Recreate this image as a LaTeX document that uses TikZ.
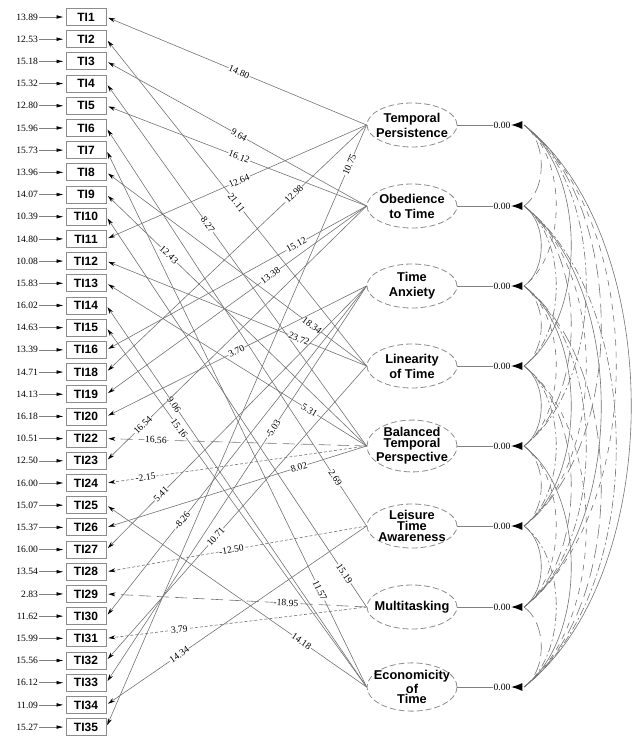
\documentclass[tikz,border=0pt]{standalone}
\usepackage{fontspec}
\setmainfont{Liberation Serif}
\newfontfamily\arialfont{Liberation Sans}
\usetikzlibrary{shapes.geometric,arrows.meta,positioning,calc}

\begin{document}
\begin{tikzpicture}[x=0.5pt, y=-0.5pt,
    indicator/.style={draw=black!45, rectangle, minimum width=20pt, minimum height=8.5pt, inner sep=0pt,
        font=\arialfont\bfseries\fontsize{6}{6}\selectfont},
    latent/.style={draw=black!45, dash pattern=on 3pt off 1.5pt, ellipse, minimum width=45pt, minimum height=22pt,
        inner xsep=-3.2pt, inner ysep=0pt, align=center,
        font=\arialfont\bfseries\fontsize{6.4}{7.5}\selectfont},
    tight/.style={font=\arialfont\bfseries\fontsize{6.4}{5.4}\selectfont},
    num/.style={font=\fontsize{4.8}{5}\selectfont, inner sep=0.3pt},
    lab/.style={num, fill=white, sloped, pos=#1},
    load/.style={draw=black!55, line width=0.3pt, shorten >=1pt, -{Stealth[length=3.5pt,width=2pt,black]}},
    longdash/.style={dash pattern=on 6pt off 3pt},
    finedash/.style={dash pattern=on 1.5pt off 1pt},
    err/.style={draw=black!50, line width=0.3pt, shorten >=1pt, -{Latex[length=3.5pt,width=1.8pt,black]}},
    varline/.style={draw=black!50, line width=0.4pt},
    vartri/.style={-{Latex[length=5.5pt,width=4pt,black]}, line width=0pt, draw=white},
    cov0/.style={draw=black!55, line width=0.3pt, dashed},
    cov1/.style={draw=black!55, line width=0.3pt},
    cov2/.style={draw=black!55, line width=0.3pt, dash pattern=on 4pt off 1.5pt on 1pt off 1.5pt},
    cov3/.style={draw=black!55, line width=0.3pt, dash pattern=on 7pt off 3pt}]

    \useasboundingbox (0,0) rectangle (633,738);

    % observed indicators with error variances
    \foreach \n/\e [count=\i] in {1/13.89, 2/12.53, 3/15.18, 4/15.32, 5/12.80, 6/15.96, 7/15.73,
        8/13.96, 9/14.07, 10/10.39, 11/14.80, 12/10.08, 13/15.83, 14/16.02, 15/14.63, 16/13.39,
        18/14.71, 19/14.13, 20/16.18, 22/10.51, 23/12.50, 24/16.00, 25/15.07, 26/15.37, 27/16.00,
        28/13.54, 29/2.83, 30/11.62, 31/15.99, 32/15.56, 33/16.12, 34/11.09, 35/15.27} {
        \node (ti\n) [indicator] at (86,{17+22.19*(\i-1)}) {TI\n};
        \node (e\n) [num, anchor=east] at (39,{17+22.19*(\i-1)}) {\e};
        \draw [err] (e\n) -- (ti\n);
    }

    % latent factors
    \node (tp) [latent] at (412,125) {Temporal\\Persistence};
    \node (ot) [latent] at (412,206) {Obedience\\to Time};
    \node (ta) [latent] at (412,286) {Time\\Anxiety};
    \node (lt) [latent] at (412,366) {Linearity\\of Time};
    \node (btp) [latent, tight] at (412,446) {Balanced\\Temporal\\Perspective};
    \node (lta) [latent, tight] at (412,526) {Leisure\\Time\\Awareness};
    \node (mt) [latent] at (412,607) {Multitasking};
    \node (et) [latent, tight] at (412,687) {Economicity\\of\\Time};

    % loadings
    \draw [load] (tp.west) -- node [lab=0.49] {14.80} (ti1.east);
    \draw [load] (lt.west) -- node [lab=0.50] {21.11} (ti2.east);
    \draw [load] (ot.west) -- node [lab=0.49] {9.64} (ti3.east);
    \draw [load] (btp.west) -- node [lab=0.61] {8.27} (ti4.east);
    \draw [load] (ot.west) -- node [lab=0.49] {16.12} (ti5.east);
    \draw [load] (lta.west) -- node [lab=0.12] {2.69} (ti6.east);
    \draw [load] (et.west) -- node [lab=0.18] {11.57} (ti7.east);
    \draw [load] (lt.west) -- node [lab=0.21] {18.34} (ti8.east);
    \draw [load] (btp.west) -- node [lab=0.76] {12.43} (ti9.east);
    \draw [load] (mt.west) -- node [lab=0.085] {15.19} (ti10.east);
    \draw [load] (tp.west) -- node [lab=0.49] {12.64} (ti11.east);
    \draw [load] (lt.west) -- node [lab=0.26] {23.72} (ti12.east);
    \draw [load] (btp.west) -- node [lab=0.22] {5.31} (ti13.east);
    \draw [load] (et.west) -- node [lab=0.74] {9.06} (ti14.east);
    \draw [load] (et.west) -- node [lab=0.72] {15.16} (ti15.east);
    \draw [load] (ot.west) -- node [lab=0.27] {15.12} (ti16.east);
    \draw [load] (tp.west) -- node [lab=0.28] {12.98} (ti18.east);
    \draw [load] (ot.west) -- node [lab=0.37] {13.38} (ti19.east);
    \draw [load] (ta.west) -- node [lab=0.50] {3.70} (ti20.east);
    \draw [load, longdash] (btp.west) -- node [lab=0.81] {16.56} (ti22.east);
    \draw [load] (ot.west) -- node [lab=0.86] {16.54} (ti23.east);
    \draw [load, finedash] (btp.west) -- node [lab=0.85] {-2.15} (ti24.east);
    \draw [load] (et.west) -- node [lab=0.25] {14.18} (ti25.east);
    \draw [load] (btp.west) -- node [lab=0.26] {8.02} (ti26.east);
    \draw [load] (ta.west) -- node [lab=0.79] {5.41} (ti27.east);
    \draw [load, finedash] (lta.west) -- node [lab=0.52] {-12.50} (ti28.east);
    \draw [load, longdash] (mt.west) -- node [lab=0.31] {-18.95} (ti29.east);
    \draw [load] (ta.west) -- node [lab=0.71] {-8.26} (ti30.east);
    \draw [load, finedash] (mt.west) -- node [lab=0.72] {3.79} (ti31.east);
    \draw [load] (lt.west) -- node [lab=0.58] {10.71} (ti32.east);
    \draw [load] (ta.west) -- node [lab=0.36] {-5.03} (ti33.east);
    \draw [load] (lta.west) -- node [lab=0.72] {14.34} (ti34.east);
    \draw [load] (tp.west) -- node [lab=0.066] {10.75} (ti35.east);

    % factor variances
    \foreach \f/\y [count=\i] in {tp/125, ot/206, ta/286, lt/366, btp/446, lta/526, mt/607, et/687} {
        \node (z\f) [num] at (502,\y) {0.00};
        \coordinate (v\i) at (524,\y);
        \draw [varline] (\f) -- (z\f);
        \draw [vartri] (v\i) -- (z\f.east);
    }

    % factor covariances
    \foreach \i in {1,...,7} {
        \pgfmathtruncatemacro\first{\i+1}
        \foreach \j in {\first,...,8} {
            \pgfmathsetmacro\c{20*(\j-\i)+3}
            \pgfmathsetmacro\d{16*(\j-\i)}
            \pgfmathtruncatemacro\s{mod(\i+\j,4)}
            \draw [cov\s] (v\i) .. controls +(\c,\d) and +(\c,-\d) .. (v\j);
        }
    }
\end{tikzpicture}
\end{document}
